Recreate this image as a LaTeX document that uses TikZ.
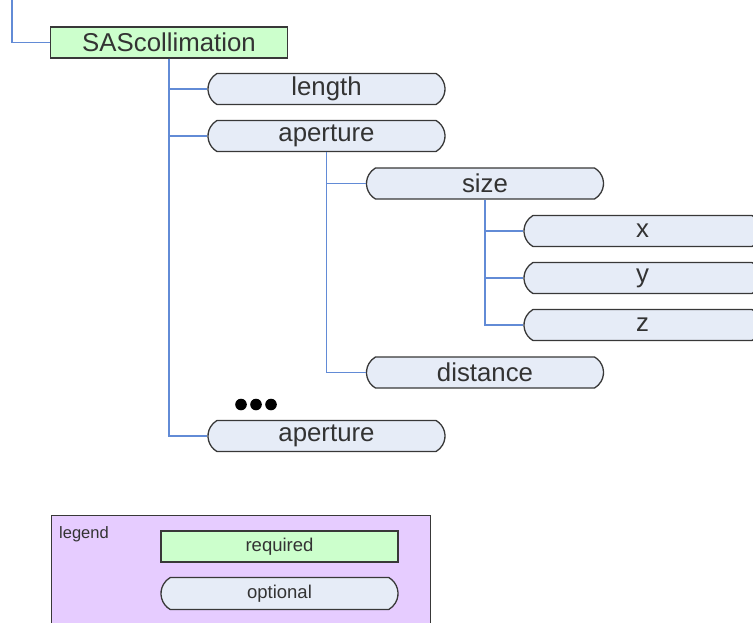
\documentclass[tikz,border=0pt]{standalone}
\usepackage{fontspec}
\setmainfont{Liberation Sans}
\usetikzlibrary{shapes.misc}
\definecolor{reqfill}{RGB}{204,255,204}
\definecolor{optfill}{RGB}{230,236,247}
\definecolor{lgdfill}{RGB}{230,204,255}
\definecolor{linkblue}{RGB}{98,139,214}
\definecolor{edge}{RGB}{56,56,56}
\begin{document}
\begin{tikzpicture}[
    x={(1pt,0pt)}, y={(0pt,-1pt)},
    reqd/.style={draw=edge, line width=1.3pt, fill=reqfill, rectangle, minimum width=237pt, minimum height=31pt, inner sep=0pt, text=black!80},
    optl/.style={draw=edge, line width=1.3pt, fill=optfill, rounded rectangle, rounded rectangle arc length=120, minimum width=237pt, minimum height=31pt, inner sep=0pt, text=black!80},
    big/.style={font=\fontsize{25.8}{28}\selectfont},
    small/.style={font=\fontsize{18.5}{21}\selectfont},
    link/.style={draw=linkblue, line width=1.5pt}
]
\useasboundingbox (0,0) rectangle (753,622);
\coordinate (top) at (12,0);
\node[reqd, big] (sasc) at (169,42.5) {SAScollimation};
% first level
\node[optl, big] (leng) at (326.5,89) {length};
\node[optl, big] (apt1) at (326.5,136) {aperture};
\node[optl, big] (apt2) at (326.5,436) {aperture};
% second level
\node[optl, big] (size) at (485,183.5) {size};
\node[optl, big] (dist) at (485,372.5) {distance};
% third level
\node[optl, big] (xval) at (642.5,231) {x};
\node[optl, big] (yval) at (642.5,278) {y};
\node[optl, big] (zval) at (642.5,325) {z};
% dots
\foreach \dx in {241,256,271}
  \fill (\dx,404.5) circle (5.8pt);
% --- Links ---
\draw[link] (top) |- (sasc.west);
\draw[link] (sasc.south) |- (leng.west);
\draw[link] (sasc.south) |- (apt1.west);
\draw[link] (sasc.south) |- (apt2.west);
\draw[link] (apt1.south) |- (size.west);
\draw[link] (apt1.south) |- (dist.west);
\draw[link] (size.south) |- (xval.west);
\draw[link] (size.south) |- (yval.west);
\draw[link] (size.south) |- (zval.west);
% --- Legend ---
\node[draw=edge, line width=1.3pt, fill=lgdfill, rectangle, minimum width=379pt, minimum height=130pt, anchor=north west, inner sep=0pt] (lgnd) at (51,515) {};
\node[anchor=north west, inner sep=0pt, font=\fontsize{16.5}{19}\selectfont, text=black!80] (lgtx) at (59,526) {legend};
\node[reqd, small, minimum height=31pt] (rqlg) at (279.5,546.5) {required};
\node[optl, small, minimum height=32pt] (oplg) at (279.5,593.5) {optional};
\end{tikzpicture}
\end{document}
